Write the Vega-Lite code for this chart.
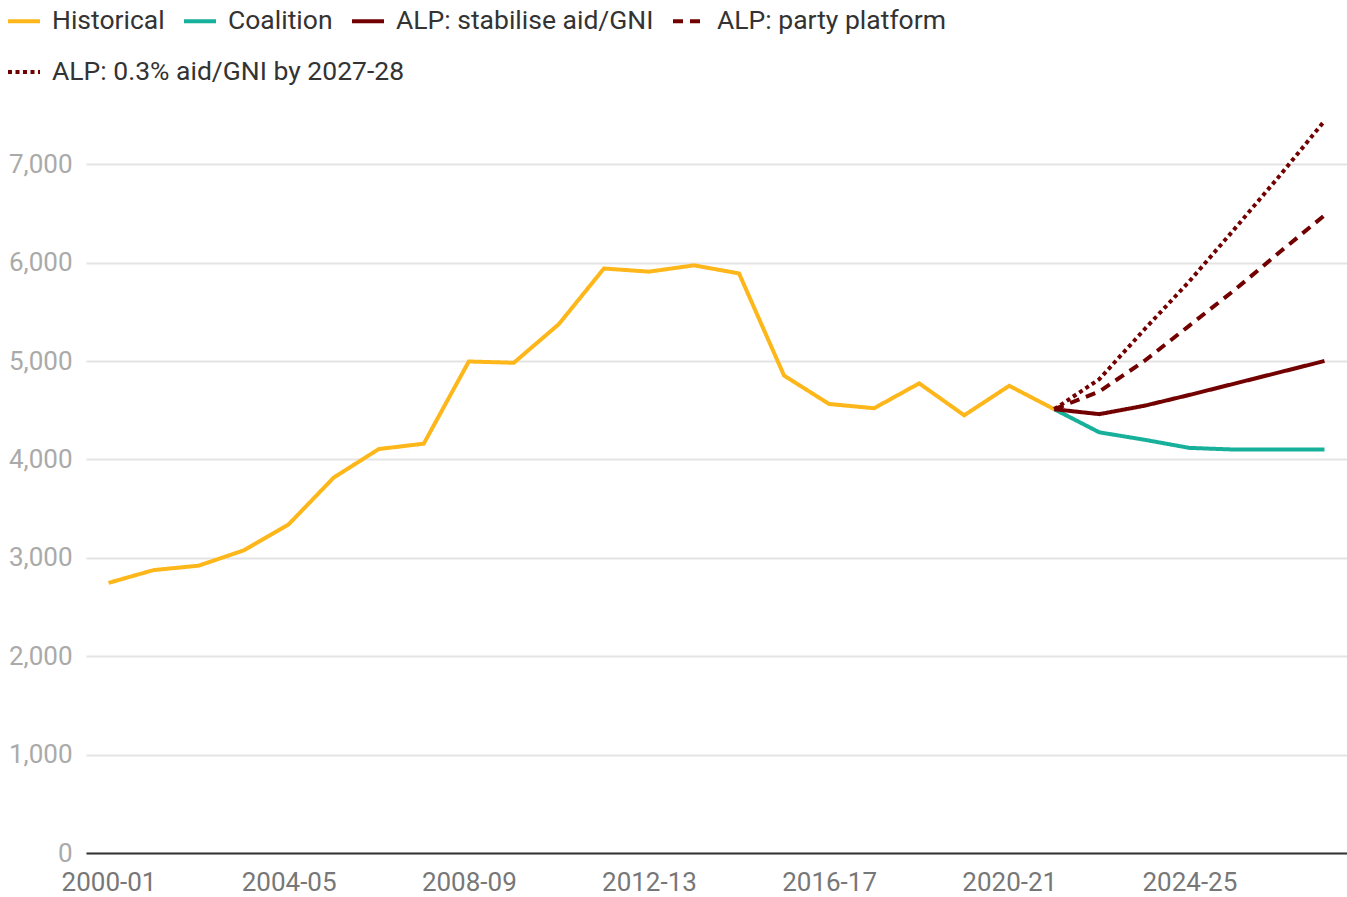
{
  "$schema": "https://vega.github.io/schema/vega-lite/v6.json",
  "autosize": "none",
  "width": 1261,
  "height": 738,
  "padding": {"left": 86, "top": 115, "right": 0, "bottom": 44},
  "background": "white",
  "data": {
    "values": [
      {"year": "2000-01", "series": "Historical", "value": 2745},
      {"year": "2001-02", "series": "Historical", "value": 2875},
      {"year": "2002-03", "series": "Historical", "value": 2920},
      {"year": "2003-04", "series": "Historical", "value": 3075},
      {"year": "2004-05", "series": "Historical", "value": 3340},
      {"year": "2005-06", "series": "Historical", "value": 3815},
      {"year": "2006-07", "series": "Historical", "value": 4105},
      {"year": "2007-08", "series": "Historical", "value": 4160},
      {"year": "2008-09", "series": "Historical", "value": 4995},
      {"year": "2009-10", "series": "Historical", "value": 4982},
      {"year": "2010-11", "series": "Historical", "value": 5375},
      {"year": "2011-12", "series": "Historical", "value": 5940},
      {"year": "2012-13", "series": "Historical", "value": 5908},
      {"year": "2013-14", "series": "Historical", "value": 5972},
      {"year": "2014-15", "series": "Historical", "value": 5890},
      {"year": "2015-16", "series": "Historical", "value": 4852},
      {"year": "2016-17", "series": "Historical", "value": 4563},
      {"year": "2017-18", "series": "Historical", "value": 4520},
      {"year": "2018-19", "series": "Historical", "value": 4773},
      {"year": "2019-20", "series": "Historical", "value": 4448},
      {"year": "2020-21", "series": "Historical", "value": 4748},
      {"year": "2021-22", "series": "Historical", "value": 4510},
      {"year": "2021-22", "series": "Coalition", "value": 4510},
      {"year": "2022-23", "series": "Coalition", "value": 4275},
      {"year": "2023-24", "series": "Coalition", "value": 4200},
      {"year": "2024-25", "series": "Coalition", "value": 4117},
      {"year": "2025-26", "series": "Coalition", "value": 4100},
      {"year": "2026-27", "series": "Coalition", "value": 4100},
      {"year": "2027-28", "series": "Coalition", "value": 4100},
      {"year": "2021-22", "series": "ALP: stabilise aid/GNI", "value": 4510},
      {"year": "2022-23", "series": "ALP: stabilise aid/GNI", "value": 4460},
      {"year": "2023-24", "series": "ALP: stabilise aid/GNI", "value": 4545},
      {"year": "2024-25", "series": "ALP: stabilise aid/GNI", "value": 4655},
      {"year": "2025-26", "series": "ALP: stabilise aid/GNI", "value": 4770},
      {"year": "2026-27", "series": "ALP: stabilise aid/GNI", "value": 4885},
      {"year": "2027-28", "series": "ALP: stabilise aid/GNI", "value": 5000},
      {"year": "2021-22", "series": "ALP: party platform", "value": 4510},
      {"year": "2022-23", "series": "ALP: party platform", "value": 4690},
      {"year": "2023-24", "series": "ALP: party platform", "value": 5000},
      {"year": "2024-25", "series": "ALP: party platform", "value": 5360},
      {"year": "2025-26", "series": "ALP: party platform", "value": 5720},
      {"year": "2026-27", "series": "ALP: party platform", "value": 6105},
      {"year": "2027-28", "series": "ALP: party platform", "value": 6480},
      {"year": "2021-22", "series": "ALP: 0.3% aid/GNI by 2027-28", "value": 4510},
      {"year": "2022-23", "series": "ALP: 0.3% aid/GNI by 2027-28", "value": 4815},
      {"year": "2023-24", "series": "ALP: 0.3% aid/GNI by 2027-28", "value": 5320},
      {"year": "2024-25", "series": "ALP: 0.3% aid/GNI by 2027-28", "value": 5810},
      {"year": "2025-26", "series": "ALP: 0.3% aid/GNI by 2027-28", "value": 6340},
      {"year": "2026-27", "series": "ALP: 0.3% aid/GNI by 2027-28", "value": 6880},
      {"year": "2027-28", "series": "ALP: 0.3% aid/GNI by 2027-28", "value": 7440}
    ]
  },
  "encoding": {
    "x": {
      "field": "year",
      "type": "ordinal",
      "scale": {
        "type": "point",
        "padding": 0.5,
        "domain": ["2000-01","2001-02","2002-03","2003-04","2004-05","2005-06","2006-07","2007-08","2008-09","2009-10","2010-11","2011-12","2012-13","2013-14","2014-15","2015-16","2016-17","2017-18","2018-19","2019-20","2020-21","2021-22","2022-23","2023-24","2024-25","2025-26","2026-27","2027-28"]
      },
      "axis": {
        "title": null,
        "values": ["2000-01","2004-05","2008-09","2012-13","2016-17","2020-21","2024-25"],
        "labelAngle": 0,
        "labelFont": "Roboto",
        "labelFontSize": 26,
        "labelColor": "#777777",
        "labelPadding": 16,
        "ticks": false,
        "grid": false,
        "domain": true,
        "domainColor": "#333333",
        "domainWidth": 2
      }
    },
    "y": {
      "field": "value",
      "type": "quantitative",
      "scale": {"domain": [0, 7500], "nice": false},
      "axis": {
        "title": null,
        "values": [0,1000,2000,3000,4000,5000,6000,7000],
        "format": ",.0f",
        "labelFont": "Roboto",
        "labelFontSize": 26,
        "labelColor": "#aaaaaa",
        "labelPadding": 14,
        "ticks": false,
        "domain": false,
        "grid": true,
        "gridColor": "#e4e4e4",
        "gridWidth": 2
      }
    }
  },
  "layer": [
    {
      "transform": [{"filter": "datum.series !== 'ALP: 0.3% aid/GNI by 2027-28'"}],
      "mark": {"type": "line", "strokeWidth": 4, "strokeJoin": "miter"},
      "encoding": {
        "color": {
          "field": "series",
          "type": "nominal",
          "sort": null,
          "scale": {
            "domain": ["Historical","Coalition","ALP: stabilise aid/GNI","ALP: party platform"],
            "range": ["#FDB71A","#17B09A","#720000","#720000"]
          },
          "legend": {
            "title": null,
            "orient": "none",
            "legendX": -80,
            "legendY": -112,
            "direction": "horizontal",
            "labelFont": "Roboto",
            "labelFontSize": 26.5,
            "labelColor": "#333333",
            "labelLimit": 1000,
            "labelOffset": 10,
            "columnPadding": 11,
            "symbolType": "stroke",
            "symbolSize": 1024,
            "symbolStrokeWidth": 4
          }
        },
        "strokeDash": {
          "field": "series",
          "type": "nominal",
          "sort": null,
          "scale": {
            "domain": ["Historical","Coalition","ALP: stabilise aid/GNI","ALP: party platform"],
            "range": [[1,0],[1,0],[1,0],[10,7]]
          },
          "legend": {
            "title": null,
            "orient": "none",
            "legendX": -80,
            "legendY": -112,
            "direction": "horizontal",
            "labelFont": "Roboto",
            "labelFontSize": 26.5,
            "labelColor": "#333333",
            "labelLimit": 1000,
            "labelOffset": 10,
            "columnPadding": 11,
            "symbolType": "stroke",
            "symbolSize": 1024,
            "symbolStrokeWidth": 4
          }
        }
      }
    },
    {
      "transform": [{"filter": "datum.series === 'ALP: 0.3% aid/GNI by 2027-28'"}],
      "mark": {"type": "line", "strokeWidth": 4, "strokeJoin": "miter"},
      "encoding": {
        "color": {
          "field": "series",
          "type": "nominal",
          "scale": {
            "domain": ["ALP: 0.3% aid/GNI by 2027-28"],
            "range": ["#720000"]
          },
          "legend": {
            "title": null,
            "orient": "none",
            "legendX": -80,
            "legendY": -61,
            "direction": "horizontal",
            "labelFont": "Roboto",
            "labelFontSize": 26.5,
            "labelColor": "#333333",
            "labelLimit": 1000,
            "labelOffset": 10,
            "symbolType": "stroke",
            "symbolSize": 1024,
            "symbolStrokeWidth": 4
          }
        },
        "strokeDash": {
          "field": "series",
          "type": "nominal",
          "scale": {
            "domain": ["ALP: 0.3% aid/GNI by 2027-28"],
            "range": [[4,3.5]]
          },
          "legend": {
            "title": null,
            "orient": "none",
            "legendX": -80,
            "legendY": -61,
            "direction": "horizontal",
            "labelFont": "Roboto",
            "labelFontSize": 26.5,
            "labelColor": "#333333",
            "labelLimit": 1000,
            "labelOffset": 10,
            "symbolType": "stroke",
            "symbolSize": 1024,
            "symbolStrokeWidth": 4
          }
        }
      }
    }
  ],
  "resolve": {"scale": {"color": "independent", "strokeDash": "independent"}},
  "config": {
    "view": {"stroke": null},
    "font": "Roboto"
  }
}
